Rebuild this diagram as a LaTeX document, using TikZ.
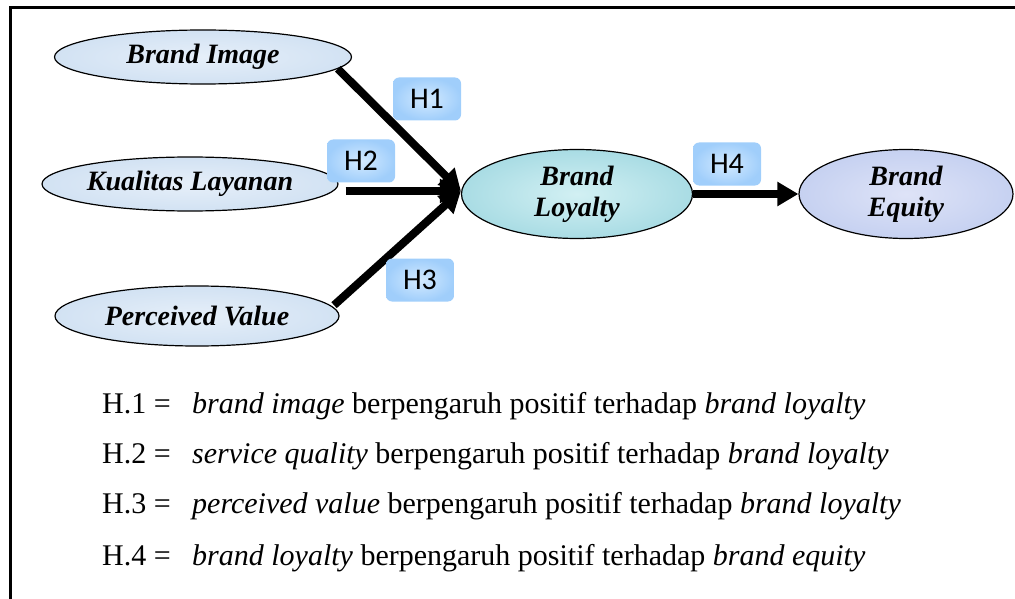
\documentclass[tikz,border=0pt]{standalone}
\usepackage{fontspec}
\setmainfont{Liberation Serif}
\newfontfamily\labelfont{Carlito}
\usetikzlibrary{shapes.geometric,arrows.meta}

\definecolor{sidein}{HTML}{E6EFF9}
\definecolor{sideout}{HTML}{D2E2F3}
\definecolor{loyin}{HTML}{D2F0F3}
\definecolor{loyout}{HTML}{A9DCE4}
\definecolor{eqin}{HTML}{DEE3F7}
\definecolor{eqout}{HTML}{C6D1F1}
\definecolor{tagin}{HTML}{D3EAFF}
\definecolor{tagout}{HTML}{A0CEFB}

\tikzset{
  construct/.style={ellipse, draw=black, line width=1.2pt, inner sep=0pt,
    align=center, font=\fontsize{28}{31}\selectfont\bfseries\itshape},
  sidevar/.style={construct, shading=radial, inner color=sidein, outer color=sideout},
  loyvar/.style={construct, shading=radial, inner color=loyin, outer color=loyout},
  eqvar/.style={construct, shading=radial, inner color=eqin, outer color=eqout},
  hyptag/.style={rectangle, rounded corners=6pt, minimum width=68pt, minimum height=43pt,
    inner sep=0pt, shading=radial, inner color=tagin, outer color=tagout,
    font=\labelfont\fontsize{30}{32}\selectfont},
  path/.style={line width=8pt, -{Triangle[length=21pt,width=23pt]}},
  legend/.style={anchor=base west, inner sep=0pt, font=\fontsize{30}{33}\selectfont}
}

\begin{document}
\begin{tikzpicture}[x=1pt,y=-1pt]
\useasboundingbox (0,0) rectangle (1015,599);

% frame
\draw[line width=2.3pt] (1015,7.5) -- (10.5,7.5) -- (10.5,599);

% constructs
\node[sidevar, minimum width=297pt, minimum height=54pt] (bi) at (203,57) {Brand Image};
\node[sidevar, minimum width=296pt, minimum height=54pt] (kl) at (190,184) {Kualitas Layanan};
\node[sidevar, minimum width=284pt, minimum height=60pt] (pv) at (197,316) {Perceived Value};
\node[loyvar, minimum width=231pt, minimum height=89pt] (bl) at (577,194) {Brand\\Loyalty};
\node[eqvar, minimum width=214pt, minimum height=89pt] (be) at (906,194) {Brand\\Equity};

% point where the three incoming paths meet
\coordinate (hub) at ([yshift=3pt]bl.west);

% hypothesis paths
\draw[path] (bi.-5) -- (hub);
\draw[path] ([xshift=7pt]kl.east |- hub) -- (hub);
\draw[path, shorten <=2pt] (pv.4) -- (hub);
\draw[path] (bl.east) -- (be.west);

% hypothesis tags
\node[hyptag] (t1) at (427,99) {H1};
\node[hyptag] (t2) at (361,161) {H2};
\node[hyptag] (t3) at (420,280) {H3};
\node[hyptag] (t4) at (727,164) {H4};

% legend
\node[legend] (l1) at (102,413) {H.1 =};
\node[legend] (d1) at (192,413) {\textit{brand image} berpengaruh positif terhadap \textit{brand loyalty}};
\node[legend] (l2) at (102,463) {H.2 =};
\node[legend] (d2) at (192,463) {\textit{service quality} berpengaruh positif terhadap \textit{brand loyalty}};
\node[legend] (l3) at (102,513) {H.3 =};
\node[legend] (d3) at (192,513) {\textit{perceived value} berpengaruh positif terhadap \textit{brand loyalty}};
\node[legend] (l4) at (102,565) {H.4 =};
\node[legend] (d4) at (192,565) {\textit{brand loyalty} berpengaruh positif terhadap \textit{brand equity}};
\end{tikzpicture}
\end{document}
